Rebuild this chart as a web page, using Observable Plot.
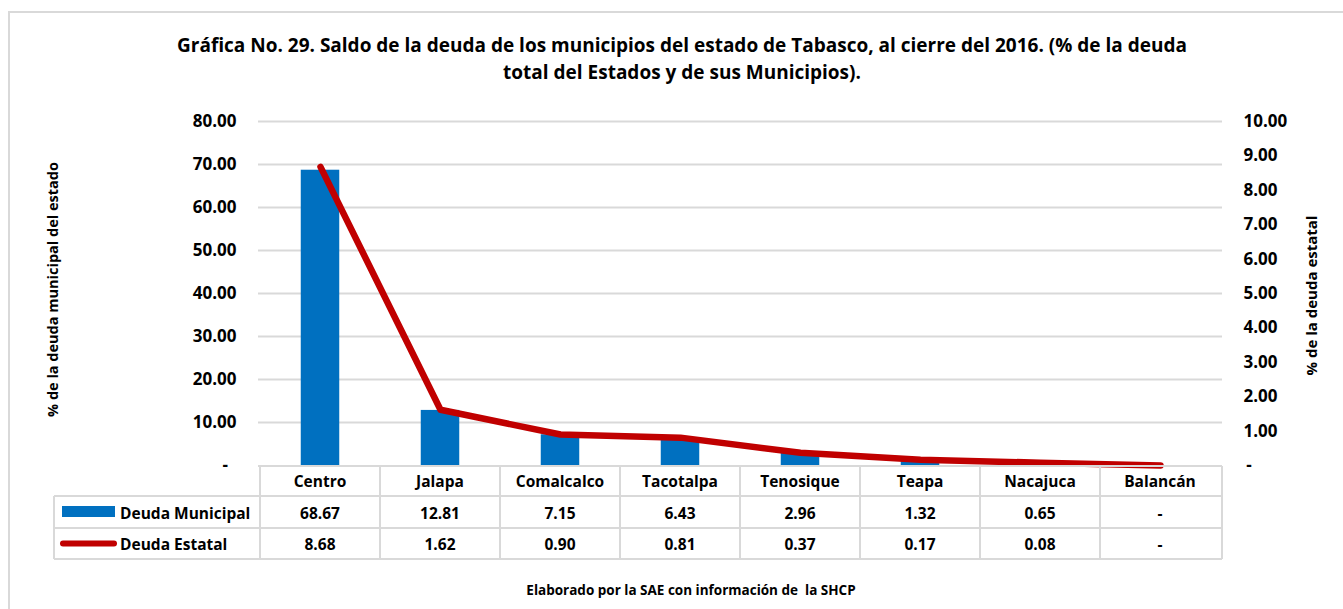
<!DOCTYPE html>
<html><head><meta charset="utf-8">
<script src="https://cdn.jsdelivr.net/npm/d3@7"></script>
<script src="https://cdn.jsdelivr.net/npm/@observablehq/plot@0.6"></script>
<style>
body{margin:0;background:#fff;font-family:"Open Sans",sans-serif;}
#page{position:relative;width:1343px;height:609px;overflow:hidden;background:#fff;}
#frame{position:absolute;left:8px;top:11px;width:1400px;height:700px;border-left:2px solid #d9d9d9;border-top:2px solid #d9d9d9;}
#title{position:absolute;left:0;top:32px;width:1364px;text-align:center;font-weight:700;font-size:19px;line-height:27px;color:#000;}
#chart{position:absolute;left:0;top:100px;}
#caption{position:absolute;left:0;width:1382px;top:581px;text-align:center;font-weight:700;font-size:13.5px;color:#000;}
</style></head>
<body>
<div id="page">
  <div id="frame"></div>
  <div id="title">Gráfica No. 29. Saldo de la deuda de los municipios del estado de Tabasco, al cierre del 2016. (% de la deuda<br>total del Estados y de sus Municipios).</div>
  <div id="chart"></div>
  <div id="caption">Elaborado por la SAE con información de&nbsp; la SHCP</div>
</div>
<script>
const municipios = ["Centro","Jalapa","Comalcalco","Tacotalpa","Tenosique","Teapa","Nacajuca","Balancán"];
const deudaMunicipal = [68.67,12.81,7.15,6.43,2.96,1.32,0.65,0];
const deudaEstatal = [8.68,1.62,0.90,0.81,0.37,0.17,0.08,0];
const leftTicks = [0,10,20,30,40,50,60,70,80];
const rightTicks = [0,1,2,3,4,5,6,7,8,9,10];
const seriesNames = ["Deuda Municipal","Deuda Estatal"];
const leftTitle = "% de la deuda municipal del estado";
const rightTitle = "% de la deuda estatal";

const ratio = 80 / 10;
const blue = "#0070C0", red = "#C00000", gridColor = "#d9d9d9";
const rows = municipios.map((m, i) => ({m, mun: deudaMunicipal[i], est: deudaEstatal[i]}));
const fmt = v => v === 0 ? "-" : v.toFixed(2);

function tableMark(index, scales, values, dims) {
  const x = scales.x;
  const bw = x.bandwidth();
  const xl = dims.marginLeft, xr = dims.width - dims.marginRight;
  const yb = dims.height - dims.marginBottom;
  const lx = 54;
  const r = [yb + 1, yb + 31, yb + 63, yb + 94];
  const g = d3.create("svg:g");
  const line = (x1, y1, x2, y2) => g.append("line").attr("x1", x1).attr("y1", y1).attr("x2", x2).attr("y2", y2)
      .attr("stroke", gridColor).attr("stroke-width", 2);
  line(xl, r[0], xr, r[0]);
  for (let k = 1; k < 4; k++) line(lx, r[k], xr, r[k]);
  line(lx, r[1], lx, r[3]);
  municipios.forEach(m => line(x(m), r[0], x(m), r[3]));
  line(xr, r[0], xr, r[3]);
  const txt = (tx, ty, s, anchor) => g.append("text").attr("x", tx).attr("y", ty).attr("text-anchor", anchor || "middle")
      .attr("dominant-baseline", "central").attr("font-size", "15.5px").attr("font-weight", "bold").attr("fill", "#000").text(s);
  rows.forEach(d => {
    const cx = x(d.m) + bw / 2;
    txt(cx, (r[0] + r[1]) / 2, d.m);
    txt(cx, (r[1] + r[2]) / 2 + 1, fmt(d.mun));
    txt(cx, (r[2] + r[3]) / 2, fmt(d.est));
  });
  const y1 = (r[1] + r[2]) / 2, y2 = (r[2] + r[3]) / 2;
  g.append("rect").attr("x", 62).attr("y", y1 - 6).attr("width", 53).attr("height", 11).attr("fill", blue);
  g.append("line").attr("x1", 63).attr("x2", 114).attr("y1", y2).attr("y2", y2).attr("stroke", red)
    .attr("stroke-width", 6).attr("stroke-linecap", "round");
  txt(120, y1 + 1, seriesNames[0], "start");
  txt(120, y2, seriesNames[1], "start");
  return g.node();
}

const plot = Plot.plot({
  width: 1343,
  height: 470,
  marginTop: 21,
  marginBottom: 105,
  marginLeft: 258,
  marginRight: 121,
  style: {fontFamily: "Open Sans", fontWeight: "bold", fontSize: "17px", color: "#000", background: "transparent", overflow: "visible"},
  x: {type: "band", domain: municipios, padding: 0, axis: null},
  y: {domain: [0, 80]},
  marks: [
    Plot.gridY(leftTicks.filter(d => d > 0), {stroke: gridColor, strokeOpacity: 1, strokeWidth: 2}),
    Plot.axisY(leftTicks, {tickSize: 0, tickPadding: 22, tickFormat: d => d === 0 ? "-\u2002" : d.toFixed(2), label: null}),
    Plot.axisY(rightTicks.map(d => d * ratio), {anchor: "right", tickSize: 0, tickPadding: 21, tickFormat: d => d === 0 ? "\u2009-" : (d / ratio).toFixed(2), label: null}),
    Plot.barY(rows, {x: "m", y: "mun", fill: blue, insetLeft: 40.75, insetRight: 40.75}),
    Plot.line(rows, {x: "m", y: d => d.est * ratio, stroke: red, strokeWidth: 6.5, strokeLinecap: "round", strokeLinejoin: "round"}),
    Plot.text([leftTitle], {text: d => d, frameAnchor: "left", textAnchor: "middle", rotate: -90, dx: -205, dy: -4, fontSize: 14.5}),
    Plot.text([rightTitle], {text: d => d, frameAnchor: "right", textAnchor: "middle", rotate: -90, dx: 90, dy: 2, fontSize: 15}),
    tableMark
  ]
});
document.getElementById("chart").appendChild(plot);
</script>
</body></html>
